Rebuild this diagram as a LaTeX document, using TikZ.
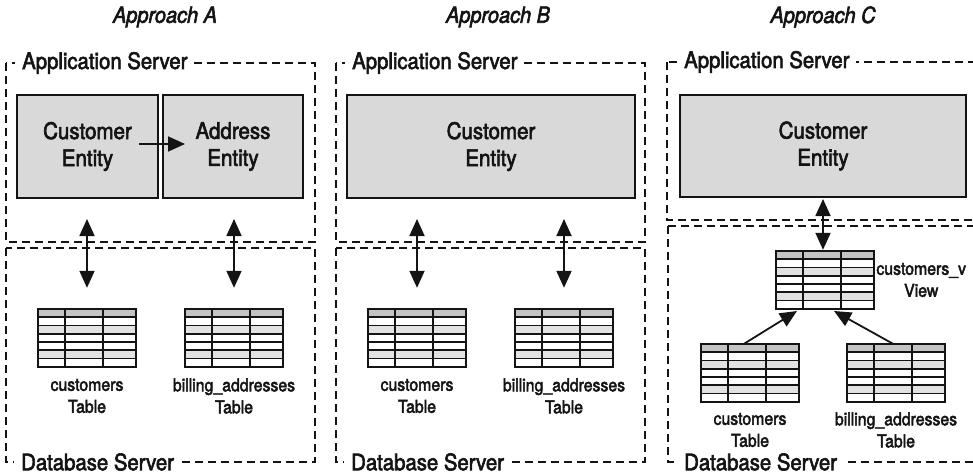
\documentclass[tikz,border=0pt]{standalone}
\usepackage{fontspec}
\setmainfont{TeX Gyre Heros}[FakeStretch=0.9, FakeBold=2.6]
\usetikzlibrary{arrows.meta}

\definecolor{entgray}{HTML}{D9D9D9}
\definecolor{headgray}{HTML}{C4C4C4}
\definecolor{rowgray}{HTML}{E2E2E2}
\definecolor{ink}{HTML}{141414}

\tikzset{
  server/.style={draw=ink, dash pattern=on 8pt off 5pt, line width=1.5pt},
  srvlabel/.style={fill=white, anchor=west, inner xsep=7pt, inner ysep=1pt,
    text=ink, font=\fontsize{22.6}{24}\selectfont},
  entity/.style={draw=ink, fill=entgray, line width=2pt, align=center,
    text=ink, font=\fontsize{22.8}{27}\selectfont},
  caption/.style={align=center, text=ink, font=\fontsize{17.6}{22}\selectfont},
  title/.style={text=ink, font=\itshape\fontsize{22.2}{24}\selectfont},
  tbl/.style={minimum width=98pt, minimum height=58pt, inner sep=0pt},
  gridline/.style={draw=ink, line width=1.7pt},
  link/.style={draw=ink, line width=1.8pt, -{Triangle[length=17pt,width=15pt]}},
  twoway/.style={draw=ink, line width=1.8pt,
    {Triangle[length=17pt,width=15pt]}-{Triangle[length=17pt,width=15pt]}},
}

% database table icon: a named placeholder node with a striped grid on top
\newcommand\dbgrid[3]{%
  \node[tbl] (#1) at (#2,#3) {};
  \begin{scope}[shift={(#1.north west)}]
    \fill[headgray] (0,0) rectangle (98,8.286);
    \fill[rowgray] (0,16.571) rectangle (98,24.857);
    \fill[rowgray] (0,41.429) rectangle (98,49.714);
    \foreach \k in {1,...,6} \draw[gridline] (0,\k*8.286) -- (98,\k*8.286);
    \draw[gridline] (27,0) -- (27,58);
    \draw[gridline] (65,0) -- (65,58);
    \draw[draw=ink, line width=2.3pt] (0,0) rectangle (98,58);
  \end{scope}
}

\begin{document}
\begin{tikzpicture}[x=1pt, y=-1pt]
\useasboundingbox (0,0) rectangle (973,474);
\clip (0,0) rectangle (973,474);

% ---------- column titles ----------
\node[title] (tA) at (165,17) {Approach A};
\node[title] (tB) at (498,17) {Approach B};
\node[title] (tC) at (823,17) {Approach C};

% ---------- Approach A ----------
\draw[server] (6,63) rectangle (315,242);
\node[srvlabel] (asA) at (15,63) {Application Server};
\draw[server] (6,248) rectangle (315,462);
\node[srvlabel] (dsA) at (14,462) {Database Server};

\node[entity, minimum width=141pt, minimum height=103pt] (custA) at (87.5,146.5) {Customer\\Entity};
\node[entity, minimum width=140pt, minimum height=103pt] (addrA) at (233,146.5) {Address\\Entity};
\coordinate (refA1) at (139,144);
\coordinate (refA2) at (185,144);
\draw[link] (refA1) -- (refA2);

\dbgrid{tblA1}{87}{338}
\dbgrid{tblA2}{234}{338}
\node[caption] (capA1) at (87,396) {customers\\Table};
\node[caption] (capA2) at (234,396) {billing\_addresses\\Table};

\draw[twoway, shorten <=20pt, shorten >=21pt] (tblA1.north |- custA.south) -- (tblA1.north);
\draw[twoway, shorten <=20pt, shorten >=21pt] (tblA2.north |- addrA.south) -- (tblA2.north);

% ---------- Approach B ----------
\draw[server] (336,63) rectangle (645,242);
\node[srvlabel] (asB) at (345,63) {Application Server};
\draw[server] (336,248) rectangle (645,462);
\node[srvlabel] (dsB) at (344,462) {Database Server};

\node[entity, minimum width=288pt, minimum height=103pt] (custB) at (491,146.5) {Customer\\Entity};

\dbgrid{tblB1}{417}{338}
\dbgrid{tblB2}{564}{338}
\node[caption] (capB1) at (417,396) {customers\\Table};
\node[caption] (capB2) at (564,396) {billing\_addresses\\Table};

\draw[twoway, shorten <=20pt, shorten >=21pt] (tblB1.north |- custB.south) -- (tblB1.north);
\draw[twoway, shorten <=20pt, shorten >=21pt] (tblB2.north |- custB.south) -- (tblB2.north);

% ---------- Approach C ----------
\draw[server] (667,62) rectangle (995,220);
\node[srvlabel] (asC) at (677,62) {Application Server};
\draw[server] (668,226) rectangle (995,462);
\node[srvlabel] (dsC) at (677,462) {Database Server};

\node[entity, minimum width=286pt, minimum height=102pt] (custC) at (823,146) {Customer\\Entity};

\dbgrid{viewC}{825}{280}
\node[caption, anchor=west, inner sep=2pt] (capV) at (viewC.east) {customers\_v\\View};

\dbgrid{tblC1}{750}{373}
\dbgrid{tblC2}{896}{373}
\node[caption] (capC1) at (750,430) {customers\\Table};
\node[caption] (capC2) at (896,430) {billing\_addresses\\Table};

\draw[twoway, shorten <=1pt, shorten >=1pt] (custC.south) -- (custC.south |- viewC.north);
\coordinate (vinL) at (797,311);
\coordinate (vinR) at (834,311);
\draw[link] ([xshift=-6pt]tblC1.north) -- (vinL);
\draw[link] ([xshift=-3pt]tblC2.north) -- (vinR);
\end{tikzpicture}
\end{document}
